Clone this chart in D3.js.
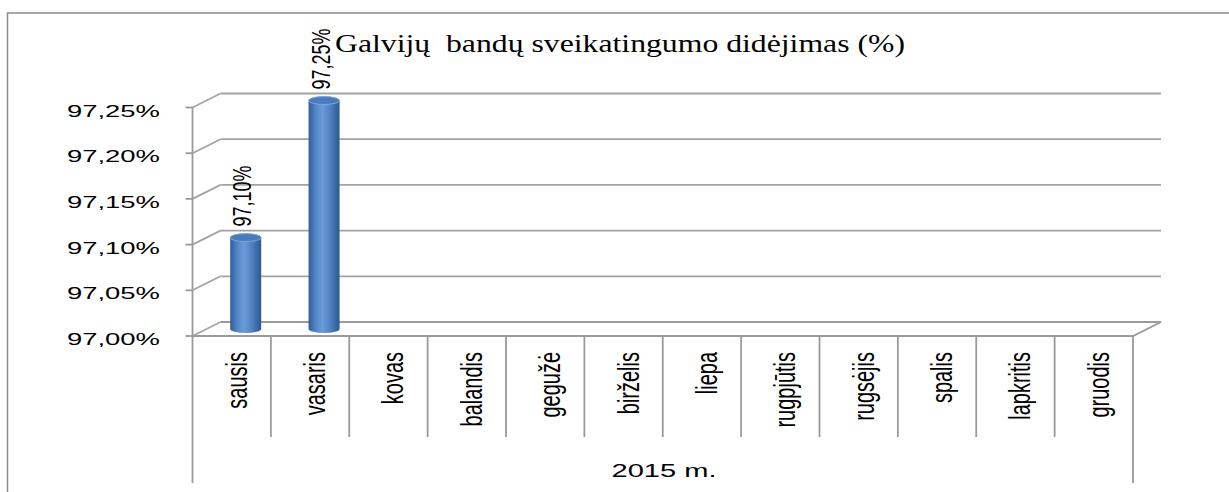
<!DOCTYPE html>
<html><head><meta charset="utf-8">
<script src="https://cdn.jsdelivr.net/npm/d3@7"></script>
<style>body{margin:0;background:#fff}svg{display:block}</style>
</head><body>
<script>
const months = ["sausis","vasaris","kovas","balandis","gegužė","birželis","liepa","rugpjūtis","rugsėjis","spalis","lapkritis","gruodis"];
const values = [97.10, 97.25, null, null, null, null, null, null, null, null, null, null];
const valueLabels = ["97,10%","97,25%"];
const yTicks = [97.00, 97.05, 97.10, 97.15, 97.20, 97.25];
const yTickLabels = ["97,00%","97,05%","97,10%","97,15%","97,20%","97,25%"];
const groupLabel = "2015 m.";
const title = "Galvijų  bandų sveikatingumo didėjimas (%)";

const W = 1229, H = 492;
const svg = d3.select("body").append("svg").attr("width", W).attr("height", H);

const DX = 28, DY = -14;
const x0 = 192.5, x1 = 1133;
const x = d3.scaleBand().domain(months).range([x0, x1]).paddingInner(0).paddingOuter(0);
const y = d3.scaleLinear().domain([97.00, 97.25]).range([336, 107.5]);
const grid = "#a3a3a3";

// outer border
svg.append("rect").attr("x", 7.5).attr("y", 13).attr("width", 1240).attr("height", 500)
  .attr("fill", "none").attr("stroke", "#8c8c8c").attr("stroke-width", 1.5);

// defs gradient
const defs = svg.append("defs");
const g1 = defs.append("linearGradient").attr("id", "cyl").attr("x1", "0").attr("x2", "1").attr("y1", "0").attr("y2", "0");
[[0, "#2f5f9c"], [0.25, "#5589c9"], [0.45, "#6b9bd9"], [0.7, "#4f80c0"], [1, "#2c5890"]]
  .forEach(([o, c]) => g1.append("stop").attr("offset", o).attr("stop-color", c));

// back wall gridlines & left wall diagonals
const gg = svg.append("g").attr("fill", "none").attr("stroke", grid).attr("stroke-width", 1.8);
yTicks.forEach(t => {
  const yy = y(t);
  if (t !== 97.00) gg.append("line").attr("x1", x0 + DX).attr("x2", x1 + DX).attr("y1", yy + DY).attr("y2", yy + DY);
  gg.append("line").attr("x1", x0).attr("x2", x0 + DX).attr("y1", yy).attr("y2", yy + DY);
});
// floor
gg.append("path").attr("d", `M${x0},${y(97)} L${x1},${y(97)} L${x1 + DX},${y(97) + DY} L${x0 + DX},${y(97) + DY}`)
  .attr("stroke", "#9a9a9a");

// y axis
const ax = svg.append("g").attr("stroke", "#9a9a9a").attr("stroke-width", 1.8);
ax.append("line").attr("x1", x0).attr("x2", x0).attr("y1", y(97.25)).attr("y2", y(97));
yTicks.forEach(t => ax.append("line").attr("x1", x0 - 7).attr("x2", x0).attr("y1", y(t)).attr("y2", y(t)));

// category dividers
months.forEach((m, i) => {
  const xx = x(m);
  const len = (i === 0) ? 483 : 437;
  ax.append("line").attr("x1", xx).attr("x2", xx).attr("y1", y(97)).attr("y2", len);
});
ax.append("line").attr("x1", x1).attr("x2", x1).attr("y1", y(97)).attr("y2", 483);

// y tick labels
svg.append("g").selectAll("text").data(yTicks).join("text")
  .attr("x", 67).attr("y", d => y(d) + 9)
  .attr("textLength", 93).attr("lengthAdjust", "spacingAndGlyphs")
  .attr("font-family", "Liberation Sans, Arial, sans-serif").attr("font-size", 16).attr("fill", "#000")
  .text((d, i) => yTickLabels[i]);

// category labels
svg.append("g").selectAll("text").data(months).join("text")
  .attr("transform", d => `translate(${x(d) + x.bandwidth() / 2 + 15},352) rotate(-90) scale(1,1.45)`)
  .attr("text-anchor", "end")
  .attr("font-family", "Liberation Sans, Arial, sans-serif").attr("font-size", 20).attr("fill", "#000")
  .text(d => d);

// group label
svg.append("text").attr("x", 611.5).attr("y", 476.5)
  .attr("textLength", 105).attr("lengthAdjust", "spacingAndGlyphs")
  .attr("font-family", "Liberation Sans, Arial, sans-serif").attr("font-size", 18).attr("fill", "#000")
  .text(groupLabel);

// bars (cylinders)
const rx = 15.5, ry = 4;
const bars = svg.append("g");
months.forEach((m, i) => {
  const v = values[i];
  if (v == null) return;
  const cx = x(m) + x.bandwidth() / 2 + DX / 2;
  const yb = y(97) + DY / 2;
  const yt = y(v) + DY / 2;
  const g = bars.append("g");
  g.append("path")
    .attr("d", `M${cx - rx},${yt} L${cx - rx},${yb} A${rx},${ry} 0 0 0 ${cx + rx},${yb} L${cx + rx},${yt} Z`)
    .attr("fill", "url(#cyl)");
  g.append("ellipse").attr("cx", cx).attr("cy", yt).attr("rx", rx).attr("ry", ry)
    .attr("fill", "#4a7cbb").attr("stroke", "#7ea6d8").attr("stroke-width", 1);
  // data label
  svg.append("text")
    .attr("transform", `translate(${cx + 5.5},${yt - 11}) rotate(-90) scale(1,1.44)`)
    .attr("text-anchor", "start")
    .attr("font-family", "Liberation Sans, Arial, sans-serif").attr("font-size", 18).attr("fill", "#000")
    .text(valueLabels[i]);
});

// title
svg.append("text").attr("x", 335).attr("y", 52)
  .attr("textLength", 570).attr("lengthAdjust", "spacingAndGlyphs")
  .style("white-space", "pre")
  .attr("font-family", "Liberation Serif, Times New Roman, serif").attr("font-size", 25).attr("fill", "#000")
  .text(title);
</script>
</body></html>
